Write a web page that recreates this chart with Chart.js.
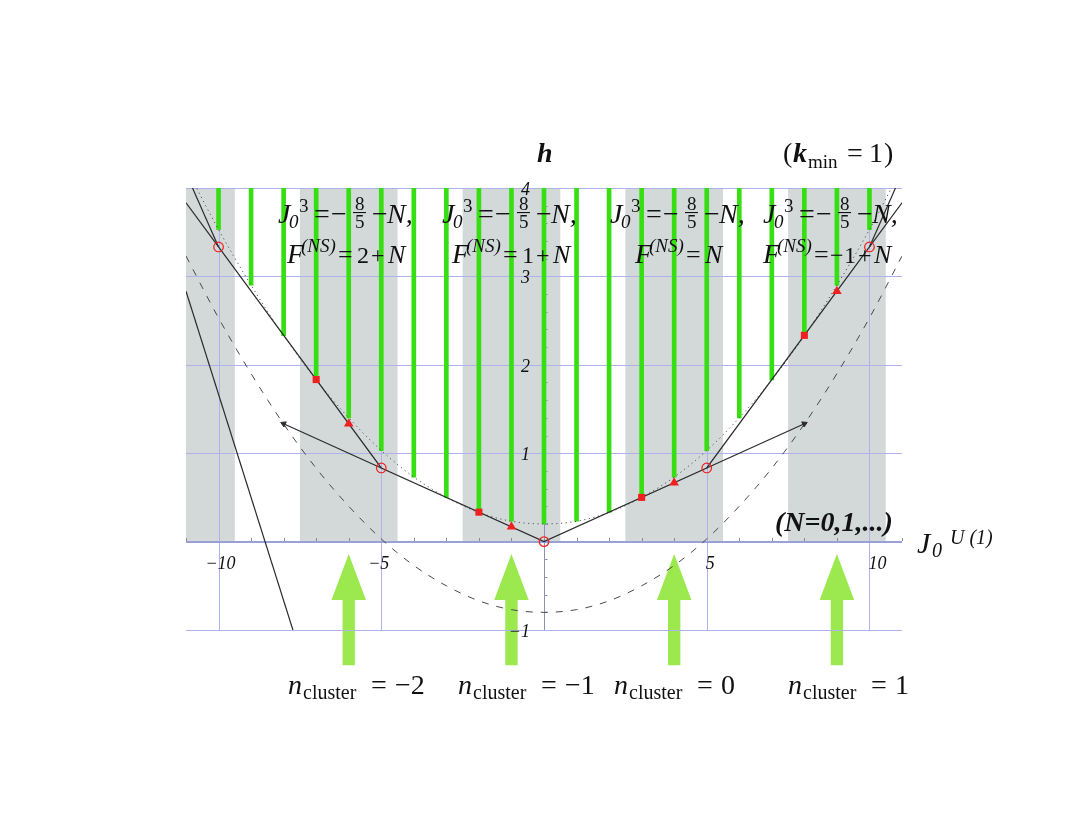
<!DOCTYPE html>
<html>
<head>
<meta charset="utf-8">
<script src="https://cdn.jsdelivr.net/npm/chart.js@4.4.1/dist/chart.umd.min.js"></script>
<style>
html,body{margin:0;padding:0;background:#ffffff;}
canvas{display:block;}
</style>
</head>
<body>
<canvas id="c" width="1090" height="817"></canvas>
<script>
// ---------------- data ----------------
const xGrid = [-10, -5, 0, 5, 10];
const yGrid = [-1, 0, 1, 2, 3, 4];
const xTickValues = [-10, -5, 5, 10];
const xTickLabels = ['−10', '−5', '5', '10'];
const yTickValues = [-1, 1, 2, 3, 4];
const yTickLabels = ['−1', '1', '2', '3', '4'];

// gray bands (centre of each 3-wide band, spanning h = 0 .. 4)
const bandCenters = [-11, -6, -1, 4, 9];
const bandLow = [0, 0, 0, 0, 0];
const bandHigh = [4, 4, 4, 4, 4];

// green level bars
const levelX = [-10, -9, -8, -7, -6, -5, -4, -3, -2, -1, 0, 1, 2, 3, 4, 5, 6, 7, 8, 9, 10];
const levelBottom = [3.53, 2.90, 2.33, 1.83, 1.40, 1.03, 0.73, 0.50, 0.33, 0.23, 0.20,
                     0.23, 0.33, 0.50, 0.73, 1.03, 1.40, 1.83, 2.33, 2.90, 3.53];
const levelTop = [4, 4, 4, 4, 4, 4, 4, 4, 4, 4, 4, 4, 4, 4, 4, 4, 4, 4, 4, 4, 4];

// dotted and dashed curves
const curveX = [-11, -10, -9, -8, -7, -6, -5, -4, -3, -2, -1, 0, 1, 2, 3, 4, 5, 6, 7, 8, 9, 10, 11];
const dottedH = [4.23, 3.53, 2.90, 2.33, 1.83, 1.40, 1.03, 0.73, 0.50, 0.33, 0.23, 0.20,
                 0.23, 0.33, 0.50, 0.73, 1.03, 1.40, 1.83, 2.33, 2.90, 3.53, 4.23];
const dashedH = [3.23, 2.53, 1.90, 1.33, 0.83, 0.40, 0.03, -0.27, -0.50, -0.67, -0.77, -0.80,
                 -0.77, -0.67, -0.50, -0.27, 0.03, 0.40, 0.83, 1.33, 1.90, 2.53, 3.23];

// solid black lines
const chordX = [-11, -10, -5, 0, 5, 10, 11];
const chordH = [3.833, 3.333, 0.833, 0, 0.833, 3.333, 3.833];
const steepLeftX = [-11, -10];
const steepLeftH = [4.167, 3.333];
const steepRightX = [10, 11];
const steepRightH = [3.333, 4.167];
const extLeftX = [-5, -8];
const extLeftH = [0.833, 1.333];
const extRightX = [5, 8];
const extRightH = [0.833, 1.333];
const farLineX = [-11, -7.5];
const farLineH = [2.833, -1.25];

// red markers
const circleX = [-10, -5, 0, 5, 10];
const circleH = [3.333, 0.833, 0, 0.833, 3.333];
const squareX = [-7, -2, 3, 8];
const squareH = [1.833, 0.333, 0.5, 2.333];
const triangleX = [-6, -1, 4, 9];
const triangleH = [1.333, 0.167, 0.667, 2.833];

// cluster arrows (x centre, tip / neck / tail heights, half widths in x units)
const clusterX = [-6, -1, 4, 9];
const clusterLabels = ['−2', '−1', '0', '1'];
const arrowTip = [-0.14, -0.14, -0.14, -0.14];
const arrowNeck = [-0.66, -0.66, -0.66, -0.66];
const arrowTail = [-1.40, -1.40, -1.40, -1.40];
const arrowHeadHalf = 0.53;
const arrowShaftHalf = 0.19;

// annotation texts
const fValues = ['2', '1', '', '−1'];

// ---------------- helpers ----------------
const pts = (xs, ys) => xs.map((x, i) => ({x: x, y: ys[i]}));
const SERIF = '"Liberation Serif", "DejaVu Serif", serif';
const fnt = (style, size) => `${style} ${size}px ${SERIF}`;

const COLORS = {
  band: '#d3d8d8',
  green: '#35df12',
  grid: '#adb2ea',
  axis: '#9aa0d8',
  yaxis: '#8c92b4',
  red: '#ee2020',
  line: '#2b2b2b',
  dash: '#4a4a4a',
  arrow: '#9be94f',
  text: '#111111'
};

function drawParts(ctx, x0, y0, parts) {
  ctx.textAlign = 'left';
  ctx.textBaseline = 'alphabetic';
  ctx.fillStyle = COLORS.text;
  for (const p of parts) {
    if (p[0] === '__bar') {
      ctx.fillRect(x0 + p[1], y0 + p[3], p[2] - p[1], 1.1);
      continue;
    }
    ctx.font = p[1];
    ctx.fillText(p[0], x0 + p[2], y0 + p[3]);
  }
}

const GREEN_INDEX = 1;

const deco = {
  id: 'deco',
  beforeDatasetsDraw(chart) {
    const ctx = chart.ctx, xs = chart.scales.x, ys = chart.scales.y;
    ctx.save();
    ctx.fillStyle = COLORS.arrow;
    const u = xs.getPixelForValue(1) - xs.getPixelForValue(0);
    for (let i = 0; i < clusterX.length; i++) {
      const cx = xs.getPixelForValue(clusterX[i]);
      const tip = ys.getPixelForValue(arrowTip[i]);
      const neck = ys.getPixelForValue(arrowNeck[i]);
      const tail = ys.getPixelForValue(arrowTail[i]);
      const hh = arrowHeadHalf * u, sh = arrowShaftHalf * u;
      ctx.beginPath();
      ctx.moveTo(cx, tip);
      ctx.lineTo(cx + hh, neck);
      ctx.lineTo(cx + sh, neck);
      ctx.lineTo(cx + sh, tail);
      ctx.lineTo(cx - sh, tail);
      ctx.lineTo(cx - sh, neck);
      ctx.lineTo(cx - hh, neck);
      ctx.closePath();
      ctx.fill();
    }
    ctx.restore();
  },
  beforeDatasetDraw(chart, args) {
    if (args.index !== GREEN_INDEX) return;
    const ctx = chart.ctx, xs = chart.scales.x, ys = chart.scales.y;
    const {left, right, top, bottom} = chart.chartArea;
    ctx.save();
    ctx.lineWidth = 1;
    ctx.strokeStyle = COLORS.grid;
    for (const v of yGrid) {
      if (v === 0) continue;
      const y = Math.round(ys.getPixelForValue(v)) + 0.5;
      ctx.beginPath(); ctx.moveTo(left, y); ctx.lineTo(right, y); ctx.stroke();
    }
    for (const v of xGrid) {
      if (v === 0) continue;
      const x = Math.round(xs.getPixelForValue(v)) + 0.5;
      ctx.beginPath(); ctx.moveTo(x, top); ctx.lineTo(x, bottom); ctx.stroke();
    }
    // vertical axis
    const x0 = Math.round(xs.getPixelForValue(0)) + 0.5;
    ctx.strokeStyle = COLORS.yaxis;
    ctx.beginPath(); ctx.moveTo(x0, top); ctx.lineTo(x0, bottom); ctx.stroke();
    for (let k = -5; k <= 20; k++) {
      if (k % 5 === 0) continue;
      const y = Math.round(ys.getPixelForValue(k * 0.2)) + 0.5;
      ctx.beginPath(); ctx.moveTo(x0, y); ctx.lineTo(x0 + 3, y); ctx.stroke();
    }
    // horizontal axis
    const y0 = Math.round(ys.getPixelForValue(0));
    ctx.strokeStyle = COLORS.axis;
    ctx.lineWidth = 2;
    ctx.beginPath(); ctx.moveTo(left, y0); ctx.lineTo(right, y0); ctx.stroke();
    ctx.lineWidth = 1;
    ctx.strokeStyle = '#8a8a9a';
    for (let k = -11; k <= 11; k++) {
      if (k % 5 === 0) continue;
      const x = Math.round(xs.getPixelForValue(k)) + 0.5;
      ctx.beginPath(); ctx.moveTo(x, y0 - 1); ctx.lineTo(x, y0 - 4); ctx.stroke();
    }
    ctx.restore();
  },
  afterDraw(chart) {
    const ctx = chart.ctx, xs = chart.scales.x, ys = chart.scales.y;
    ctx.save();
    ctx.fillStyle = COLORS.text;
    // x tick labels
    const axisY = ys.getPixelForValue(0);
    ctx.font = fnt('italic', 18);
    ctx.textBaseline = 'alphabetic';
    xTickValues.forEach((v, i) => {
      const px = xs.getPixelForValue(v);
      const lab = xTickLabels[i];
      const digits = lab.replace('−', '');
      ctx.textAlign = 'left';
      ctx.fillText(digits, px - 1, axisY + 27);
      if (lab.startsWith('−')) {
        ctx.textAlign = 'right';
        ctx.fillText('−', px - 1, axisY + 27);
      }
    });
    // y tick labels
    const axisX = xs.getPixelForValue(0);
    ctx.textAlign = 'right';
    ctx.font = fnt('italic', 18);
    yTickValues.forEach((v, i) => {
      ctx.fillText(yTickLabels[i], axisX - 14, ys.getPixelForValue(v) + 7);
    });

    const I28 = fnt('italic', 28), R28 = fnt('normal', 28), BI28 = fnt('italic bold', 28);
    const I26 = fnt('italic', 26), R26 = fnt('normal', 26), R24 = fnt('normal', 24);
    const I19 = fnt('italic', 19), R19 = fnt('normal', 19), R19f = fnt('normal', 19);

    // axis titles
    drawParts(ctx, 537, 162, [['h', BI28, 0, 0]]);
    drawParts(ctx, 783, 162, [
      ['(', R28, 0, 0], ['k', BI28, 10, 0], ['min', R19, 25, 6],
      ['=', R28, 64, 0], ['1', R28, 86, 0], [')', R28, 101, 0]
    ]);
    drawParts(ctx, 917, 553, [
      ['J', fnt('italic', 30), 0, 0], ['0', fnt('italic', 20), 15, 4], ['U (1)', fnt('italic', 20), 33, -9]
    ]);
    drawParts(ctx, 775, 531, [['(N=0,1,...)', BI28, 0, 0]]);

    // annotation rows
    const row1X = [278, 442, 610, 763];
    const row2X = [287, 452, 635, 763];
    row1X.forEach((x) => {
      drawParts(ctx, x, 223, [
        ['J', I28, 0, 0], ['0', I19, 11, 5], ['3', R19, 21, -11],
        ['=', R28, 36, 0], ['−', R28, 53, 0],
        ['8', R19f, 77, -13], ['__bar', 75, 88, -11], ['5', R19f, 77, 5],
        ['−', R28, 94, 0], ['N,', I28, 109, 0]
      ]);
    });
    row2X.forEach((x, i) => {
      const parts = [['F', I28, 0, 0], ['(NS)', I19, 14, -11], ['=', R26, 51, 0]];
      const fv = fValues[i];
      if (fv === '') {
        parts.push(['N', I26, 70, 0]);
      } else if (fv.startsWith('−')) {
        parts.push(['−', R24, 67, 0], [fv.slice(1), R24, 81, 0], ['+', R24, 95, 0], ['N', I26, 111, 0]);
      } else {
        parts.push([fv, R24, 70, 0], ['+', R24, 84, 0], ['N', I26, 101, 0]);
      }
      drawParts(ctx, x, 263, parts);
    });

    // cluster labels
    const clusterLabelX = [288, 458, 614, 788];
    clusterLabelX.forEach((x, i) => {
      drawParts(ctx, x, 694, [
        ['n', I28, 0, 0], ['cluster', fnt('normal', 20), 15, 5],
        ['=', R28, 83, 0], [clusterLabels[i], R28, 107, 0]
      ]);
    });
    ctx.restore();
  }
};

const lineStyle = {type: 'line', borderColor: COLORS.line, borderWidth: 1.2, pointRadius: 0, fill: false, tension: 0, order: 50};

const data = {
  datasets: [
    { // 0 bands
      type: 'bar', label: 'bands', xAxisID: 'x', order: 100,
      data: bandCenters.map((c, i) => ({x: c, y: [bandLow[i], bandHigh[i]]})),
      backgroundColor: COLORS.band, borderWidth: 0,
      categoryPercentage: 1.0, barPercentage: 0.6, grouped: false
    },
    { // 1 green levels
      type: 'bar', label: 'levels', xAxisID: 'x2', order: 90,
      data: levelX.map((c, i) => ({x: c, y: [levelBottom[i], levelTop[i]]})),
      backgroundColor: COLORS.green, borderWidth: 0, barThickness: 4, grouped: false
    },
    Object.assign({}, lineStyle, {
      label: 'dashed', data: pts(curveX, dashedH), borderColor: COLORS.dash, borderWidth: 1,
      borderDash: [7, 8], cubicInterpolationMode: 'monotone', order: 60
    }),
    Object.assign({}, lineStyle, {
      label: 'dotted', data: pts(curveX, dottedH), borderColor: '#555555', borderWidth: 1,
      borderDash: [1.2, 3.5], cubicInterpolationMode: 'monotone', order: 60
    }),
    Object.assign({}, lineStyle, {label: 'chords', data: pts(chordX, chordH)}),
    Object.assign({}, lineStyle, {label: 'steepL', data: pts(steepLeftX, steepLeftH)}),
    Object.assign({}, lineStyle, {label: 'steepR', data: pts(steepRightX, steepRightH)}),
    Object.assign({}, lineStyle, {label: 'extL', data: pts(extLeftX, extLeftH)}),
    Object.assign({}, lineStyle, {label: 'extR', data: pts(extRightX, extRightH)}),
    Object.assign({}, lineStyle, {label: 'far', data: pts(farLineX, farLineH)}),
    {
      type: 'scatter', label: 'arrowheads', order: 40,
      data: [{x: extLeftX[1], y: extLeftH[1]}, {x: extRightX[1], y: extRightH[1]}],
      pointStyle: 'triangle', pointRadius: 3.2, backgroundColor: COLORS.line, borderColor: COLORS.line, borderWidth: 1,
      pointRotation(ctx) {
        const ch = ctx.chart, xs = ch.scales.x, ys = ch.scales.y;
        const X = ctx.dataIndex === 0 ? extLeftX : extRightX;
        const H = ctx.dataIndex === 0 ? extLeftH : extRightH;
        const dx = xs.getPixelForValue(X[1]) - xs.getPixelForValue(X[0]);
        const dy = ys.getPixelForValue(H[1]) - ys.getPixelForValue(H[0]);
        return Math.atan2(dx, -dy) * 180 / Math.PI;
      }
    },
    {
      type: 'scatter', label: 'circles', order: 10, data: pts(circleX, circleH),
      pointStyle: 'circle', pointRadius: 4.8, borderColor: COLORS.red, backgroundColor: 'rgba(0,0,0,0)', borderWidth: 1.2
    },
    {
      type: 'scatter', label: 'squares', order: 10, data: pts(squareX, squareH),
      pointStyle: 'rect', pointRadius: 5, borderColor: COLORS.red, backgroundColor: COLORS.red, borderWidth: 0
    },
    {
      type: 'scatter', label: 'triangles', order: 10, data: pts(triangleX, triangleH),
      pointStyle: 'triangle', pointRadius: 5.5, borderColor: COLORS.red, backgroundColor: COLORS.red, borderWidth: 0
    }
  ]
};

new Chart(document.getElementById('c'), {
  type: 'line',
  data: data,
  options: {
    responsive: false,
    animation: false,
    events: [],
    devicePixelRatio: 1,
    layout: {padding: {left: 186, right: 188, top: 188, bottom: 187}},
    plugins: {legend: {display: false}, tooltip: {enabled: false}},
    scales: {
      x: {type: 'linear', min: -11, max: 11, display: false, offset: false,
          ticks: {stepSize: 5, includeBounds: false}},
      x2: {type: 'linear', min: -11, max: 11, display: false, offset: false},
      y: {type: 'linear', min: -1, max: 4, display: false}
    }
  },
  plugins: [deco]
});
</script>
</body>
</html>
